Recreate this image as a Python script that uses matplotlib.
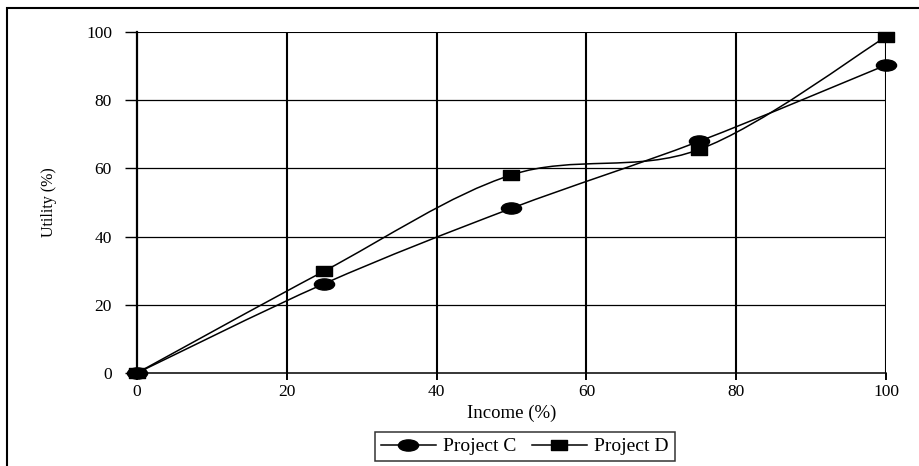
import numpy as np
import matplotlib.pyplot as plt
from matplotlib.path import Path
from matplotlib.patches import PathPatch, Rectangle
from matplotlib.lines import Line2D
from matplotlib.transforms import Affine2D

plt.rcParams['font.family'] = ['Liberation Serif', 'DejaVu Serif']

income = [0, 25, 50, 75, 100]
utility_c = [0, 26.2, 48.3, 67.9, 90.3]
utility_d = [0, 29.9, 58.1, 65.5, 98.6]
series_names = ['Project C', 'Project D']
x_ticks = [0, 20, 40, 60, 80, 100]
y_ticks = [0, 20, 40, 60, 80, 100]

# wide markers, like the stretched symbols of a spreadsheet chart
ellipse = Path.unit_circle().transformed(Affine2D().scale(1.8, 1.0))
rect = Path([(-0.8, -0.5), (0.8, -0.5), (0.8, 0.5), (-0.8, 0.5), (-0.8, -0.5)],
            [Path.MOVETO, Path.LINETO, Path.LINETO, Path.LINETO, Path.CLOSEPOLY])


def smooth_path(xs, ys):
    """Cubic Bezier path through the points (Catmull-Rom style tangents)."""
    pts = np.column_stack([xs, ys]).astype(float)
    n = len(pts)
    verts = [pts[0]]
    codes = [Path.MOVETO]
    for i in range(n - 1):
        p0 = pts[i - 1] if i > 0 else pts[i]
        p1, p2 = pts[i], pts[i + 1]
        p3 = pts[i + 2] if i + 2 < n else pts[i + 1]
        c1 = p1 + (p2 - p0) / 6.0
        c2 = p2 - (p3 - p1) / 6.0
        verts += [c1, c2, p2]
        codes += [Path.CURVE4] * 3
    return Path(verts, codes)


fig = plt.figure(figsize=(9.2, 4.66), dpi=100)
ax = fig.add_axes([137 / 920, 1 - 373 / 466, (886 - 137) / 920, (373 - 32) / 466])

for ys, mk, ms in [(utility_c, ellipse, 14.5), (utility_d, rect, 11.5)]:
    ax.add_patch(PathPatch(smooth_path(income, ys), fill=False, lw=1.1,
                           edgecolor='black', zorder=3, clip_on=False))
    ax.plot(income, ys, linestyle='none', marker=mk, markersize=ms,
            color='black', zorder=4, clip_on=False)

ax.set_xlim(0, 100)
ax.set_ylim(0, 100)
ax.set_xticks(x_ticks)
ax.set_yticks(y_ticks)
ax.tick_params(axis='y', direction='out', length=9, width=1.0, pad=9, labelsize=12.5)
ax.tick_params(axis='x', direction='out', length=5, width=1.4, pad=3, labelsize=12.5)

for x in x_ticks[1:]:
    ax.axvline(x, color='black', lw=1.5, zorder=1)
for y in y_ticks[1:]:
    ax.axhline(y, color='black', lw=1.5 if y == 100 else 0.9, zorder=1)

ax.spines['top'].set_visible(False)
ax.spines['right'].set_visible(False)
ax.spines['left'].set_linewidth(1.6)
ax.spines['bottom'].set_linewidth(1.1)

ax.set_xlabel('Income (%)', fontsize=13.5, labelpad=3)
ax.set_ylabel('Utility (%)', fontsize=11.5, labelpad=21)

# outer chart frame, running off the right and bottom edges
fig.add_artist(Rectangle((7 / 920, -0.1), 1.0, 1 - 8 / 466 + 0.1,
                         transform=fig.transFigure, fill=False,
                         edgecolor='black', lw=1.5))

handles = [Line2D([], [], color='black', lw=1.1, marker=ellipse, markersize=14.5),
           Line2D([], [], color='black', lw=1.1, marker=rect, markersize=11.5)]
leg = fig.legend(handles, series_names, loc='upper center',
                 bbox_to_anchor=(525 / 920, 1 - 432 / 466), ncol=2,
                 frameon=True, fancybox=False, fontsize=14,
                 handlelength=2.8, handletextpad=0.4, columnspacing=0.8,
                 borderpad=0.3, borderaxespad=0)
leg.get_frame().set_edgecolor('black')
leg.get_frame().set_linewidth(1.1)

fig.savefig('out.png', dpi=100)
